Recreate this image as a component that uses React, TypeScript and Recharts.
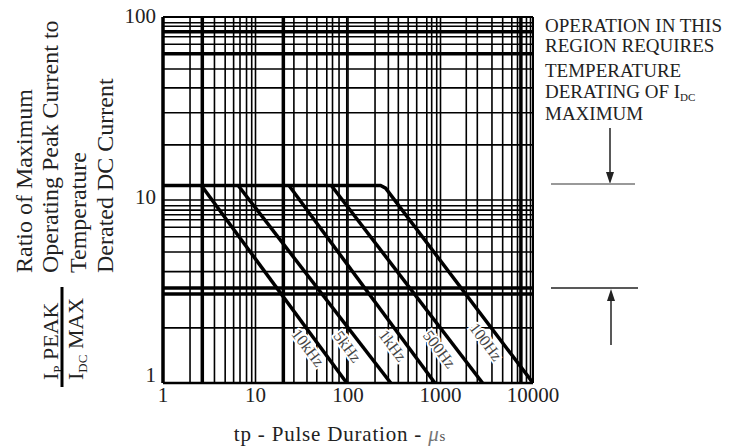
import React from 'react';
import { ComposedChart, Line, Scatter, XAxis, YAxis, ReferenceLine } from 'recharts';

const FONT = "'Liberation Serif', 'Times New Roman', serif";

const xTicks = [1, 10, 100, 1000, 10000];
const yTicks = [1, 10, 100];

// grid as it appears on the scanned sheet (slightly off a true log grid)
const xGridLines = [
  1.96, 3.6, 4.7, 5.8, 6.8, 8.0, 9.1, 10,
  26, 36, 46, 59, 68, 80, 97, 100,
  196, 273, 350, 447, 553, 711, 803, 910, 1000,
  1900, 2500, 3600, 4700, 5900, 6800, 8500, 9400,
];
const xHeavyLines = [2.66, 20, 7400];
const yGridLines = [2, 4.06, 5.2, 6.3, 7.1, 7.8, 8.3, 8.8, 9.3, 10, 20, 30, 41, 52, 71, 78, 89, 93];
const yHeavyLines = [3.06, 3.3, 63, 83];

// derating curves (tp in µs, Ipeak / Idc max)
const curve10kHz = [{ x: 2.6, y: 12 }, { x: 97, y: 1 }];
const curve5kHz = [{ x: 6.5, y: 12 }, { x: 290, y: 1 }];
const curve1kHz = [{ x: 23, y: 12 }, { x: 870, y: 1 }];
const curve500Hz = [{ x: 66, y: 12 }, { x: 2850, y: 1 }];
const curve100Hz = [{ x: 1, y: 12 }, { x: 225, y: 12 }, { x: 255, y: 11.6 }, { x: 10000, y: 1 }];

const curveLabels = [
  { x: 37, y: 1.56, text: '10kHz' },
  { x: 99, y: 1.58, text: '5kHz' },
  { x: 305, y: 1.6, text: '1kHz' },
  { x: 975, y: 1.53, text: '500Hz' },
  { x: 3100, y: 1.68, text: '100Hz' },
];

const curves = [curve10kHz, curve5kHz, curve1kHz, curve500Hz, curve100Hz];

const YTick = (props: any) => {
  const { x, y, payload } = props;
  const shift = payload.value === 1 ? -8 : payload.value === 10 ? -3 : -1;
  return (
    <text x={x} y={y + shift} dy="0.355em" textAnchor="end" fontSize={21} fontFamily={FONT} fill="#222">
      {payload.value}
    </text>
  );
};

const CurveLabel = (props: any) => {
  const { cx, cy, payload } = props;
  return (
    <text
      x={cx}
      y={cy}
      transform={`rotate(53 ${cx} ${cy})`}
      textAnchor="middle"
      dominantBaseline="central"
      fontSize={16}
      fontFamily={FONT}
      fill="#444"
      stroke="#fff"
      strokeWidth={4}
      paintOrder="stroke"
    >
      {payload.text}
    </text>
  );
};

export default function App() {
  return (
    <div style={{ position: 'absolute', left: 0, top: 0, width: 746, height: 447, background: '#fff', fontFamily: FONT }}>
      <ComposedChart width={746} height={447} margin={{ top: 17, right: 213, bottom: 34, left: 103 }}>
        <XAxis
          type="number"
          dataKey="x"
          scale="log"
          domain={[1, 10000]}
          ticks={xTicks}
          axisLine={false}
          tickLine={false}
          tickSize={0}
          tickMargin={4}
          height={30}
          tick={{ fontSize: 21, fontFamily: FONT, fill: '#222' }}
          allowDataOverflow
        />
        <YAxis
          type="number"
          dataKey="y"
          scale="log"
          domain={[1, 100]}
          ticks={yTicks}
          axisLine={false}
          tickLine={false}
          tickSize={0}
          tickMargin={7}
          width={60}
          tick={<YTick />}
          allowDataOverflow
        />
        {xGridLines.map((v) => (
          <ReferenceLine key={'xg' + v} x={v} stroke="#000" strokeWidth={1.6} />
        ))}
        {yGridLines.map((v) => (
          <ReferenceLine key={'yg' + v} y={v} stroke="#000" strokeWidth={1.6} />
        ))}
        {xHeavyLines.map((v) => (
          <ReferenceLine key={'xh' + v} x={v} stroke="#000" strokeWidth={3.5} />
        ))}
        {yHeavyLines.map((v) => (
          <ReferenceLine key={'yh' + v} y={v} stroke="#000" strokeWidth={3.5} />
        ))}
        <ReferenceLine x={1} stroke="#000" strokeWidth={3.5} />
        <ReferenceLine x={10000} stroke="#000" strokeWidth={2} />
        <ReferenceLine y={1} stroke="#000" strokeWidth={2.5} />
        <ReferenceLine y={100} stroke="#000" strokeWidth={2} />
        {curves.map((d, i) => (
          <Line
            key={'c' + i}
            data={d}
            dataKey="y"
            type="linear"
            stroke="#000"
            strokeWidth={3.5}
            dot={false}
            activeDot={false}
            isAnimationActive={false}
          />
        ))}
        <Scatter data={curveLabels} dataKey="y" shape={<CurveLabel />} isAnimationActive={false} />
      </ComposedChart>

      <svg width={746} height={447} style={{ position: 'absolute', left: 0, top: 0, pointerEvents: 'none' }}>
        <g fontFamily={FONT} fill="#222">
          <text transform="translate(32,273) rotate(-90)" fontSize={24}>Ratio of Maximum</text>
          <text transform="translate(58,273) rotate(-90)" fontSize={24}>Operating Peak Current to</text>
          <text transform="translate(86,273) rotate(-90)" fontSize={24}>Temperature</text>
          <text transform="translate(113,273) rotate(-90)" fontSize={24}>Derated DC Current</text>

          <text transform="translate(58,380) rotate(-90)" fontSize={22}>
            I<tspan fontSize={13} dy={4}>P</tspan>
            <tspan dy={-4}> PEAK</tspan>
          </text>
          <text transform="translate(83,380) rotate(-90)" fontSize={22}>
            I<tspan fontSize={13} dy={4}>DC</tspan>
            <tspan dy={-4}> MAX</tspan>
          </text>

          <text x={545} y={32} fontSize={19}>OPERATION IN THIS</text>
          <text x={545} y={52} fontSize={19}>REGION REQUIRES</text>
          <text x={545} y={77} fontSize={19}>TEMPERATURE</text>
          <text x={545} y={98} fontSize={19}>
            DERATING OF I<tspan fontSize={11} dy={3}>DC</tspan>
          </text>
          <text x={545} y={120} fontSize={19}>MAXIMUM</text>

          <text x={340} y={441} fontSize={21} letterSpacing={0.8} textAnchor="middle">
            tp - Pulse Duration - <tspan fontStyle="italic" fill="#777">μ</tspan>
            <tspan fontSize={15} fill="#555">s</tspan>
          </text>
        </g>
        <line x1={62} y1={287} x2={62} y2={387} stroke="#000" strokeWidth={3} />

        <line x1={610} y1={128} x2={610} y2={176} stroke="#222" strokeWidth={1.5} />
        <polygon points="606,172 614,172 610,184" fill="#222" />
        <line x1={551} y1={184} x2={635} y2={184} stroke="#999" strokeWidth={2} />

        <line x1={551} y1={288} x2={638} y2={288} stroke="#222" strokeWidth={1.5} />
        <polygon points="607,301 615,301 611,289" fill="#222" />
        <line x1={611} y1={298} x2={611} y2={345} stroke="#222" strokeWidth={1.5} />
      </svg>
    </div>
  );
}
